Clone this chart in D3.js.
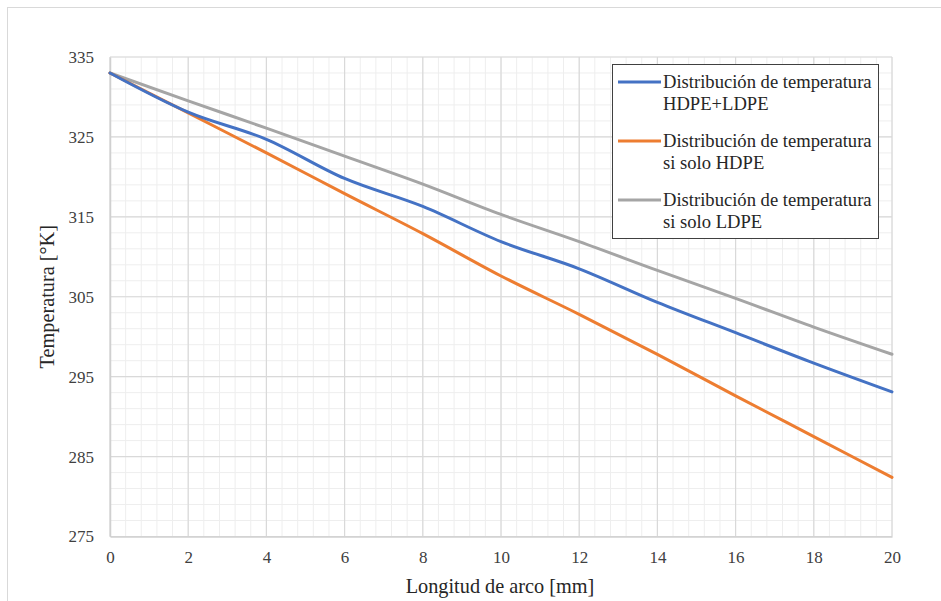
<!DOCTYPE html>
<html>
<head>
<meta charset="utf-8">
<script src="https://cdn.jsdelivr.net/npm/d3@7"></script>
<style>
  html, body { margin: 0; padding: 0; background: #fff; }
  svg { display: block; }
</style>
</head>
<body>
<svg id="chart" width="941" height="601"></svg>
<script>
// ---- data ----
const arcLength = [0, 2, 4, 6, 8, 10, 12, 14, 16, 18, 20];
const tempHdpeLdpe = [333, 328.1, 324.7, 319.8, 316.3, 311.9, 308.5, 304.3, 300.5, 296.7, 293.1];
const tempSoloHdpe = [333, 328.0, 323.0, 317.9, 312.9, 307.6, 302.8, 297.8, 292.6, 287.5, 282.4];
const tempSoloLdpe = [333, 329.5, 326.1, 322.6, 319.1, 315.3, 311.9, 308.3, 304.8, 301.2, 297.8];
const seriesNames = [
  ["Distribución de temperatura", "HDPE+LDPE"],
  ["Distribución de temperatura", "si solo HDPE"],
  ["Distribución de temperatura", "si solo LDPE"]
];
const xTicks = [0, 2, 4, 6, 8, 10, 12, 14, 16, 18, 20];
const yTicks = [275, 285, 295, 305, 315, 325, 335];
const xTitle = "Longitud de arco [mm]";
const yTitle = "Temperatura [°K]";

(function () {
const series = [
  { name: seriesNames[0], values: tempHdpeLdpe, color: "#4472C4" },
  { name: seriesNames[1], values: tempSoloHdpe, color: "#ED7D31" },
  { name: seriesNames[2], values: tempSoloLdpe, color: "#A5A5A5" }
];

const svg = d3.select("#chart");
const W = 941, H = 601;
const pL = 110, pR = 892, pT = 57, pB = 536.5;

// outer chart border
svg.append("rect").attr("x", 7.5).attr("y", 7.5).attr("width", W + 10).attr("height", H + 10)
  .attr("fill", "#fff").attr("stroke", "#d9d9d9").attr("stroke-width", 1);

const x = d3.scaleLinear().domain([0, 20]).range([pL, pR]);
const y = d3.scaleLinear().domain([275, 335]).range([pB, pT]);

// minor grid
const g = svg.append("g");
const xMinor = d3.range(0, 20.001, 0.4);
const yMinor = d3.range(275, 335.001, 2);
g.selectAll(".vmin").data(xMinor).join("line")
  .attr("x1", d => x(d)).attr("x2", d => x(d)).attr("y1", pT).attr("y2", pB)
  .attr("stroke", "#eeeeee").attr("stroke-width", 1);
g.selectAll(".hmin").data(yMinor).join("line")
  .attr("x1", pL).attr("x2", pR).attr("y1", d => y(d)).attr("y2", d => y(d))
  .attr("stroke", "#eeeeee").attr("stroke-width", 1);
// major grid
g.selectAll(".vmaj").data(xTicks).join("line")
  .attr("x1", d => x(d)).attr("x2", d => x(d)).attr("y1", pT).attr("y2", pB)
  .attr("stroke", "#d9d9d9").attr("stroke-width", 1.2);
g.selectAll(".hmaj").data(yTicks).join("line")
  .attr("x1", pL).attr("x2", pR).attr("y1", d => y(d)).attr("y2", d => y(d))
  .attr("stroke", "#d9d9d9").attr("stroke-width", 1.2);

// axes
const xAxis = d3.axisBottom(x).tickValues(xTicks).tickSize(0).tickPadding(14).tickFormat(d3.format("d"));
const yAxis = d3.axisLeft(y).tickValues(yTicks).tickSize(0).tickPadding(16).tickFormat(d3.format("d"));
const gx = svg.append("g").attr("transform", `translate(0,${pB})`).call(xAxis);
const gy = svg.append("g").attr("transform", `translate(${pL},0)`).call(yAxis);
[gx, gy].forEach(a => {
  a.select(".domain").attr("stroke", "#d0d0d0").attr("stroke-width", 1.5);
  a.selectAll("text").attr("font-family", "'Liberation Serif', 'DejaVu Serif', serif")
    .attr("font-size", 17).attr("fill", "#404040");
});

// lines
const line = d3.line().x((d, i) => x(arcLength[i])).y(d => y(d)).curve(d3.curveMonotoneX);
svg.append("g").selectAll("path").data(series.slice().reverse()).join("path")
  .attr("d", d => line(d.values))
  .attr("fill", "none").attr("stroke", d => d.color).attr("stroke-width", 3)
  .attr("stroke-linecap", "round").attr("stroke-linejoin", "round");

// axis titles
svg.append("text").attr("x", (pL + pR) / 2 - 1).attr("y", 593)
  .attr("text-anchor", "middle").attr("font-family", "'Liberation Serif', serif")
  .attr("font-size", 20.3).attr("fill", "#262626").text(xTitle);
svg.append("text").attr("transform", `translate(54,${(pT + pB) / 2}) rotate(-90)`)
  .attr("text-anchor", "middle").attr("font-family", "'Liberation Serif', serif")
  .attr("font-size", 20.3).attr("fill", "#262626").text(yTitle);

// legend
const lg = svg.append("g");
lg.append("rect").attr("x", 612.5).attr("y", 64.5).attr("width", 266).attr("height", 174)
  .attr("fill", "#fff").attr("stroke", "#404040").attr("stroke-width", 1);
const item = lg.selectAll(".item").data(series).join("g")
  .attr("transform", (d, i) => `translate(0,${82 + i * 59})`);
item.append("line").attr("x1", 618).attr("x2", 661).attr("y1", 0).attr("y2", 0)
  .attr("stroke", d => d.color).attr("stroke-width", 3);
item.each(function(d) {
  const t = d3.select(this).append("text").attr("font-family", "'Liberation Serif', serif")
    .attr("font-size", 18.6).attr("fill", "#262626");
  d.name.forEach((s, k) => {
    t.append("tspan").attr("x", 663).attr("y", 6 + k * 22).text(s);
  });
});
})();
</script>
</body>
</html>
